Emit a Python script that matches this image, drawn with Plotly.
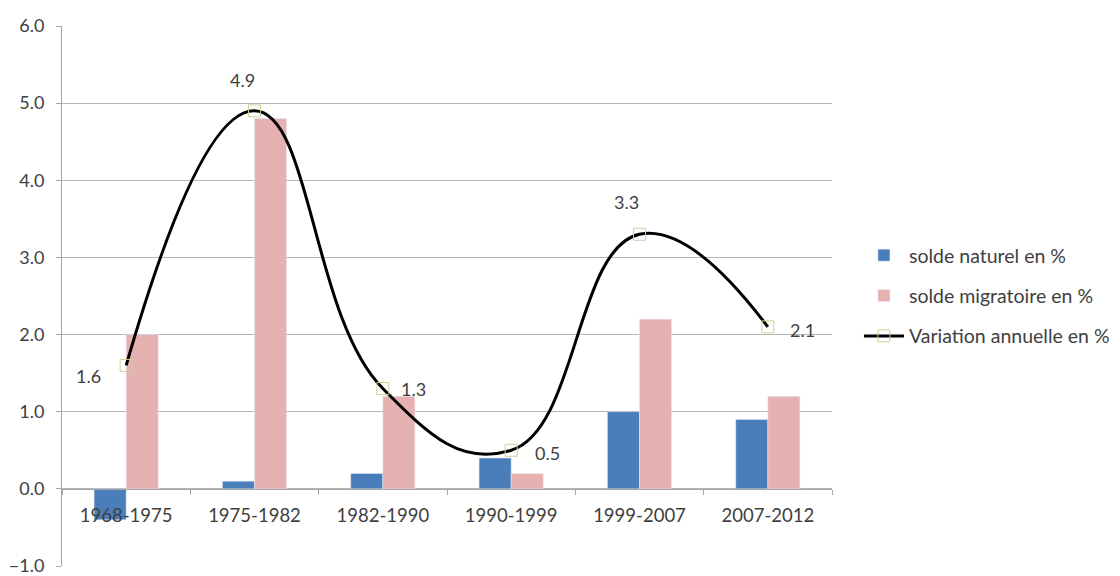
import plotly.graph_objects as go

categories = ["1968-1975", "1975-1982", "1982-1990", "1990-1999", "1999-2007", "2007-2012"]
solde_naturel = [-0.4, 0.1, 0.2, 0.4, 1.0, 0.9]
solde_migratoire = [2.0, 4.8, 1.2, 0.2, 2.2, 1.2]
variation = [1.6, 4.9, 1.3, 0.5, 3.3, 2.1]
variation_labels = ["1.6", "4.9", "1.3", "0.5", "3.3", "2.1"]
label_dx = [-38, -12, 31, 36, -13, 35]
label_dy = [-11, 31, 0, -3, 32, -3]
y_ticks = [-1, 0, 1, 2, 3, 4, 5, 6]

FONT = "Lato, 'Open Sans', sans-serif"
TXT = "#404040"

fig = go.Figure()
fig.add_trace(go.Bar(
    x=categories, y=solde_naturel, name="solde naturel en %",
    marker=dict(color="#4A7EBB"), legendgroup="a",
))
fig.add_trace(go.Bar(
    x=categories, y=solde_migratoire, name="solde migratoire en %",
    marker=dict(color="#E6B1B1"), legendgroup="b",
))
fig.add_trace(go.Scatter(
    x=categories, y=variation, name="Variation annuelle en %",
    mode="lines+markers", legendgroup="c",
    line=dict(color="black", width=3, shape="spline", smoothing=1.3),
    marker=dict(symbol="square-open", size=12, color="#CCD29A", line=dict(width=1)),
))

for cat, val, lab, dx, dy in zip(categories, variation, variation_labels, label_dx, label_dy):
    fig.add_annotation(
        x=cat, y=val, text=lab, showarrow=False,
        xshift=dx, yshift=dy,
        font=dict(family=FONT, size=18, color=TXT),
    )

fig.update_layout(
    width=1120, height=576,
    margin=dict(l=54, r=296, t=18, b=18),
    plot_bgcolor="white", paper_bgcolor="white",
    barmode="group", bargap=0.5, bargroupgap=0.0,
    font=dict(family=FONT, size=18, color=TXT),
    legend=dict(
        x=1.035, y=0.5, xanchor="left", yanchor="middle",
        font=dict(family=FONT, size=19.5, color=TXT),
        tracegroupgap=12, itemwidth=40,
    ),
    xaxis=dict(
        anchor="free", position=1/7, automargin=False,
        showline=True, linecolor="#A6A6A6", linewidth=1,
        ticks="outside", tickson="boundaries", ticklen=5, tickcolor="#A6A6A6",
        showgrid=False, ticklabelstandoff=10,
        tickfont=dict(family=FONT, size=18.5, color=TXT),
    ),
    yaxis=dict(
        range=[-1, 6], tickvals=y_ticks, tickformat=".1f", automargin=False,
        showgrid=True, gridcolor="#B5B5B5", gridwidth=1,
        zeroline=False,
        showline=True, linecolor="#A6A6A6", linewidth=1,
        ticks="outside", ticklen=5, tickcolor="#A6A6A6",
        ticklabelstandoff=8,
        tickfont=dict(family=FONT, size=18, color=TXT),
    ),
)

fig.write_html("out.html")
